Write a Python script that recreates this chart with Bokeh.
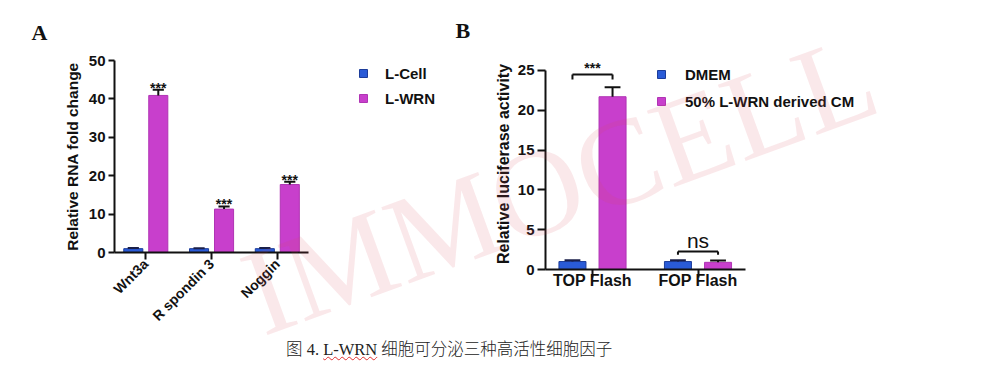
from bokeh.plotting import figure
from bokeh.models import (Range1d, FixedTicker, Legend, LegendItem,
                          ColumnDataSource, Div)
from bokeh.layouts import row, column
from bokeh.embed import file_html
from bokeh.resources import INLINE
from bokeh.core.properties import value

# ---------------- data: panel A ----------------
genes = ["Wnt3a", "R spondin 3", "Noggin"]
lcell_mean = [1.0, 1.0, 1.0]
lcell_err = [0.15, 0.12, 0.15]
lwrn_mean = [40.9, 11.3, 17.7]
lwrn_err = [1.5, 0.7, 0.7]
a_sig = ["***", "***", "***"]
a_yticks = [0, 10, 20, 30, 40, 50]
a_series = ["L-Cell", "L-WRN"]

# ---------------- data: panel B ----------------
reporters = ["TOP Flash", "FOP Flash"]
dmem_mean = [1.0, 1.0]
dmem_err = [0.15, 0.15]
cm_mean = [21.7, 0.9]
cm_err = [1.2, 0.22]
b_sig = ["***", "ns"]
b_bracket_y = [24.5, 2.25]
b_bracket_leg = [23.85, 1.85]
b_yticks = [0, 5, 10, 15, 20, 25]
b_series = ["DMEM", "50% L-WRN derived CM"]

caption_pre = "图 4. "
caption_mark = "L-WRN"
caption_post = " 细胞可分泌三种高活性细胞因子"
watermark = "IMMOCELL"

BLUE = "#2a5bd7"
BLUE_LINE = "#1c3c9a"
MAG = "#c83fcc"
MAG_LINE = "#b034b4"
FONT = "Liberation Sans"
INK = "#111111"


def style_axes(p, tick_out_x, tick_out_y):
    for ax in (p.xaxis[0], p.yaxis[0]):
        ax.axis_line_width = 2
        ax.axis_line_color = INK
        ax.major_tick_line_width = 2
        ax.major_tick_line_color = INK
        ax.major_tick_in = 0
        ax.minor_tick_line_color = None
        ax.major_label_text_font = FONT
        ax.major_label_text_font_style = "bold"
        ax.major_label_text_color = INK
        ax.axis_label_text_font = FONT
        ax.axis_label_text_font_style = "bold"
        ax.axis_label_text_color = INK
    p.xaxis[0].major_tick_out = tick_out_x
    p.yaxis[0].major_tick_out = tick_out_y
    p.xgrid.grid_line_color = None
    p.ygrid.grid_line_color = None
    p.outline_line_color = None
    p.background_fill_color = None
    p.border_fill_color = None


def bar_source(cats, mean, err, off, cap):
    idx = list(range(len(cats)))
    return ColumnDataSource(dict(
        x=[i + off for i in idx],
        x0=[i + off - cap / 2 for i in idx],
        x1=[i + off + cap / 2 for i in idx],
        top=mean,
        hi=[m + e for m, e in zip(mean, err)],
    ))


def draw_series(p, src, width, fill, line, err_color):
    r = p.vbar(x="x", top="top", width=width, source=src,
               fill_color=fill, line_color=line, line_width=1)
    p.segment(x0="x", y0="top", x1="x", y1="hi", source=src,
              line_color=err_color, line_width=2)
    p.segment(x0="x0", y0="hi", x1="x1", y1="hi", source=src,
              line_color=err_color, line_width=2)
    return r


def style_title(p, offset, standoff):
    p.title.text_font = "Liberation Serif"
    p.title.text_font_size = "22px"
    p.title.text_font_style = "bold"
    p.title.text_color = INK
    p.title.align = "left"
    p.title.offset = offset
    p.title.standoff = standoff


def make_legend(items, loc, spacing, standoff):
    return Legend(items=items, location=loc, orientation="vertical",
                  glyph_width=10, glyph_height=10, label_standoff=standoff,
                  label_height=20, spacing=spacing, padding=0, margin=0,
                  border_line_color=None, background_fill_alpha=0,
                  label_text_font=FONT, label_text_font_size="15px",
                  label_text_font_style="bold", label_text_color=INK)


# ================= Panel A =================
A_START, A_END, A_AXIS_END = -0.476, 4.558, 2.475
pA = figure(width=448, height=332, output_backend="svg", toolbar_location=None,
            x_range=Range1d(A_START, A_END), y_range=Range1d(0, 50),
            min_border_left=114, min_border_right=3,
            min_border_top=60, min_border_bottom=79, title="A")
OFF_A, W_A, CAP_A = 0.19, 0.29, 0.17
srcA1 = bar_source(genes, lcell_mean, lcell_err, -OFF_A, CAP_A)
srcA2 = bar_source(genes, lwrn_mean, lwrn_err, OFF_A, CAP_A)
rA1 = draw_series(pA, srcA1, W_A, BLUE, BLUE_LINE, "#1a1f4a")
rA2 = draw_series(pA, srcA2, W_A, MAG, MAG_LINE, INK)
srcA2.data["sig"] = a_sig
pA.text(x="x", y="hi", text="sig", source=srcA2,
        text_align="center", text_baseline="alphabetic", y_offset=-2,
        text_font=value(FONT), text_font_size="14px", text_font_style="bold",
        text_color=INK)
style_axes(pA, 7, 6)
pA.xaxis[0].ticker = FixedTicker(ticks=list(range(len(genes))))
pA.xaxis[0].major_label_overrides = {i: g for i, g in enumerate(genes)}
pA.xaxis[0].bounds = (A_START, A_AXIS_END)
pA.xaxis[0].major_label_text_font_size = "14px"
pA.xaxis[0].major_label_orientation = 0.785
pA.xaxis[0].major_label_standoff = 2
pA.yaxis[0].ticker = FixedTicker(ticks=a_yticks)
pA.yaxis[0].bounds = (0, 50)
pA.yaxis[0].axis_label = "Relative RNA fold change"
pA.yaxis[0].axis_label_text_font_size = "15.5px"
pA.yaxis[0].axis_label_standoff = 5
pA.yaxis[0].major_label_text_font_size = "15px"
pA.yaxis[0].major_label_standoff = 3
style_title(pA, -83, 31)
pA.add_layout(make_legend([LegendItem(label=a_series[0], renderers=[rA1]),
                           LegendItem(label=a_series[1], renderers=[rA2])],
                          (244, 144), 5, 17))

# ================= Panel B =================
B_START, B_END, B_AXIS_END = -0.4455, 3.7725, 1.450
pB = figure(width=552, height=330, output_backend="svg", toolbar_location=None,
            x_range=Range1d(B_START, B_END), y_range=Range1d(0, 26.5),
            min_border_left=97, min_border_right=10,
            min_border_top=58, min_border_bottom=61, title="B")
OFF_B, W_B, CAP_B = 0.19, 0.256, 0.15
srcB1 = bar_source(reporters, dmem_mean, dmem_err, -OFF_B, CAP_B)
srcB2 = bar_source(reporters, cm_mean, cm_err, OFF_B, CAP_B)
rB1 = draw_series(pB, srcB1, W_B, BLUE, BLUE_LINE, "#1a1f4a")
rB2 = draw_series(pB, srcB2, W_B, MAG, MAG_LINE, INK)

idxB = list(range(len(reporters)))
src_br = ColumnDataSource(dict(
    xl=[i - OFF_B for i in idxB],
    xr=[i + OFF_B for i in idxB],
    xc=idxB,
    by=b_bracket_y,
    leg=b_bracket_leg,
    sig=b_sig,
    fs=["14px", "21px"],
    fst=["bold", "normal"],
    yo=[-6, -11],
))
pB.segment(x0="xl", y0="by", x1="xr", y1="by", source=src_br,
           line_color=INK, line_width=2)
pB.segment(x0="xl", y0="by", x1="xl", y1="leg", source=src_br,
           line_color=INK, line_width=2)
pB.segment(x0="xr", y0="by", x1="xr", y1="leg", source=src_br,
           line_color=INK, line_width=2)
pB.text(x="xc", y="by", text="sig", source=src_br,
        text_align="center", text_baseline="alphabetic", y_offset="yo",
        text_font=value(FONT), text_font_size="fs", text_font_style="fst",
        text_color=INK)
style_axes(pB, 8, 8)
pB.xaxis[0].ticker = FixedTicker(ticks=idxB)
pB.xaxis[0].major_label_overrides = {i: r for i, r in enumerate(reporters)}
pB.xaxis[0].bounds = (B_START, B_AXIS_END)
pB.xaxis[0].major_label_text_font_size = "16px"
pB.xaxis[0].major_label_standoff = -6
pB.yaxis[0].ticker = FixedTicker(ticks=b_yticks)
pB.yaxis[0].bounds = (0, 25)
pB.yaxis[0].axis_label = "Relative luciferase activity"
pB.yaxis[0].axis_label_text_font_size = "16px"
pB.yaxis[0].axis_label_standoff = 3
pB.yaxis[0].major_label_text_font_size = "15px"
pB.yaxis[0].major_label_standoff = 3
style_title(pB, -90, 31)
pB.add_layout(make_legend([LegendItem(label=b_series[0], renderers=[rB1]),
                           LegendItem(label=b_series[1], renderers=[rB2])],
                          (111, 158), 7, 19))

# ================= caption =================
cap_html = (
    '<div style="font-family:\'Liberation Serif\',\'Noto Sans CJK SC\',serif;'
    'font-size:16.5px;color:#222;padding-left:281px;white-space:nowrap;'
    'padding-top:3px;line-height:20px;font-weight:300;">'
    + caption_pre
    + '<span style="text-decoration:underline wavy #e03030;text-decoration-thickness:1px;">'
    + caption_mark + '</span>' + caption_post + '</div>'
)
caption = Div(text=cap_html, width=1000, height=34)

# faint diagonal watermark overlaid on the whole picture
wm_html = (
    '<div style="position:relative;width:1000px;height:366px;">'
    '<span style="position:absolute;left:205px;top:130px;width:700px;height:100px;'
    'text-align:center;transform:rotate(-20deg);transform-origin:50% 50%;'
    'font-family:\'Liberation Serif\',serif;font-size:124px;line-height:100px;'
    'color:rgba(215,80,90,0.13);white-space:nowrap;pointer-events:none;">'
    + watermark + '</span></div>'
)
wm = Div(text=wm_html, width=1000, height=366,
         styles={"position": "absolute", "left": "0px", "top": "0px",
                 "pointer-events": "none"})

layout = column(row(column(pA), column(pB)), caption, wm)
open("out.html", "w").write(file_html(layout, INLINE))
